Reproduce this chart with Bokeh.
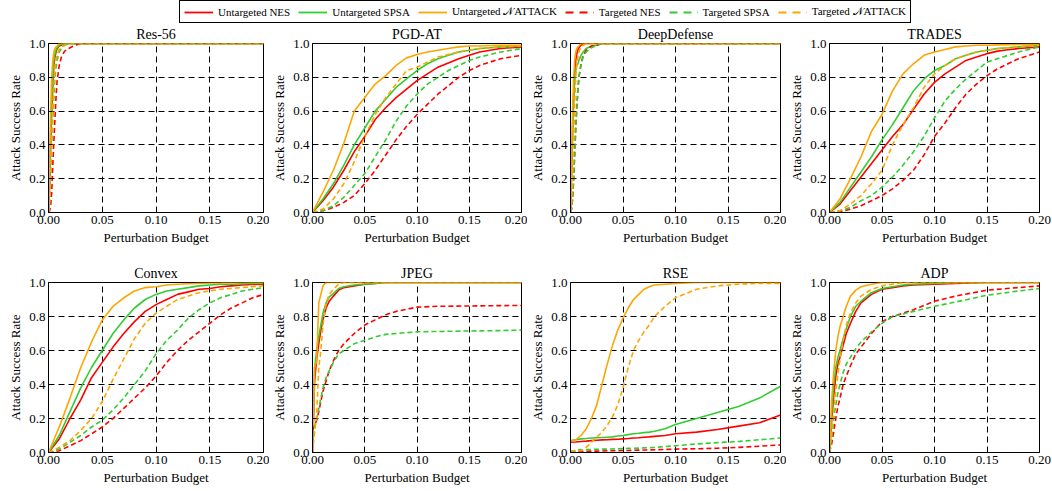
from bokeh.plotting import figure
from bokeh.layouts import column, row
from bokeh.models import FixedTicker, PrintfTickFormatter, Legend, LegendItem, Range1d
from bokeh.embed import file_html
from bokeh.resources import INLINE

FONT = "Liberation Serif"

# ---------------- data ----------------
X_TICKS = [0.0, 0.05, 0.10, 0.15, 0.20]
Y_TICKS = [0.0, 0.2, 0.4, 0.6, 0.8, 1.0]

GRID_COARSE = [0.00, 0.01, 0.02, 0.03, 0.04, 0.05, 0.06, 0.07, 0.08, 0.09, 0.10,
               0.11, 0.12, 0.13, 0.14, 0.15, 0.16, 0.17, 0.18, 0.19, 0.20]
GRID_FINE = [0, .001, .002, .003, .004, .005, .006, .007, .008, .010, .012, .015,
             .020, .025, .030, .050, .100, .200]
GRID_MIXED = [0, .002, .004, .006, .008, .010, .013, .016, .020, .025, .030, .040,
              .050, .060, .070, .080, .100, .120, .150, .180, .200]
GRID_RSE = [0, .005, .01, .015, .02, .025, .03, .035, .04, .045, .05, .055, .06,
            .065, .07, .075, .08, .09, .10, .12, .14, .16, .18, .20]

RES56 = {
    "u_nes":  [0, .15, .40, .60, .75, .87, .92, .95, .97, .985, .99, 1, 1, 1, 1, 1, 1, 1],
    "u_spsa": [0, .20, .45, .65, .80, .90, .94, .96, .975, .99, .995, 1, 1, 1, 1, 1, 1, 1],
    "u_natt": [0, .30, .60, .80, .90, .95, .97, .98, .985, 1, 1, 1, 1, 1, 1, 1, 1, 1],
    "t_nes":  [0, .01, .04, .12, .28, .42, .55, .68, .78, .87, .92, .955, .975, .99, 1, 1, 1, 1],
    "t_spsa": [0, .05, .20, .40, .55, .68, .80, .86, .90, .95, .97, .99, 1, 1, 1, 1, 1, 1],
    "t_natt": [0, .07, .25, .45, .62, .75, .85, .90, .93, .97, .98, .99, 1, 1, 1, 1, 1, 1],
}
PGDAT = {
    "u_nes":  [0, .07, .15, .25, .36, .45, .55, .62, .68, .73, .78, .82, .86, .885, .91, .93, .95, .96, .97, .975, .98],
    "u_spsa": [0, .08, .17, .28, .40, .50, .60, .67, .74, .79, .84, .88, .91, .93, .95, .96, .97, .975, .98, .983, .985],
    "u_natt": [0, .12, .25, .41, .60, .68, .76, .81, .87, .915, .935, .95, .96, .97, .98, .985, .985, .988, .99, .99, .99],
    "t_nes":  [0, .01, .03, .06, .10, .17, .25, .34, .43, .51, .58, .64, .70, .75, .80, .84, .87, .89, .91, .92, .93],
    "t_spsa": [0, .01, .04, .09, .16, .23, .33, .43, .54, .63, .70, .76, .80, .84, .87, .90, .92, .935, .95, .96, .97],
    "t_natt": [0, .02, .08, .17, .30, .45, .58, .68, .76, .84, .86, .89, .92, .935, .95, .96, .97, .975, .98, .982, .985],
}
DEEPDEF = {
    "u_nes":  [0, .25, .50, .70, .82, .90, .94, .96, .975, .99, .995, 1, 1, 1, 1, 1, 1, 1],
    "u_spsa": [0, .20, .45, .65, .78, .84, .87, .88, .90, .93, .95, .97, .985, .99, 1, 1, 1, 1],
    "u_natt": [0, .30, .60, .80, .90, .95, .97, .98, .985, 1, 1, 1, 1, 1, 1, 1, 1, 1],
    "t_nes":  [0, .02, .08, .20, .35, .50, .62, .72, .80, .88, .93, .96, .985, .99, 1, 1, 1, 1],
    "t_spsa": [0, .02, .08, .20, .35, .50, .62, .72, .80, .87, .92, .95, .975, .99, 1, 1, 1, 1],
    "t_natt": [0, .05, .20, .45, .65, .80, .88, .92, .95, .98, .99, 1, 1, 1, 1, 1, 1, 1],
}
TRADES = {
    "u_nes":  [0, .05, .13, .21, .29, .37, .45, .52, .61, .70, .77, .82, .86, .90, .92, .94, .955, .963, .97, .975, .98],
    "u_spsa": [0, .06, .15, .24, .33, .43, .52, .62, .72, .79, .84, .87, .91, .93, .95, .96, .97, .975, .98, .985, .99],
    "u_natt": [0, .08, .20, .33, .48, .58, .72, .82, .88, .93, .95, .965, .98, .985, .99, .99, .992, .993, .994, .995, .995],
    "t_nes":  [0, .005, .02, .04, .07, .10, .14, .19, .25, .34, .45, .53, .62, .70, .76, .81, .85, .88, .91, .93, .95],
    "t_spsa": [0, .01, .03, .07, .10, .15, .21, .28, .36, .45, .56, .66, .73, .79, .84, .89, .91, .93, .95, .965, .98],
    "t_natt": [0, .01, .05, .10, .17, .25, .40, .52, .62, .74, .82, .87, .91, .93, .95, .96, .97, .975, .98, .985, .99],
}
CONVEX = {
    "u_nes":  [0, .08, .20, .31, .44, .53, .62, .70, .77, .83, .87, .90, .93, .945, .96, .965, .975, .98, .985, .988, .99],
    "u_spsa": [0, .10, .24, .38, .50, .60, .70, .78, .85, .90, .93, .95, .96, .97, .98, .985, .99, .99, .993, .995, .995],
    "u_natt": [0, .15, .32, .50, .65, .78, .86, .91, .95, .97, .975, .985, .99, .993, .995, .997, .998, 1, 1, 1, 1],
    "t_nes":  [0, .01, .04, .07, .11, .15, .20, .26, .32, .38, .45, .53, .60, .66, .71, .76, .81, .85, .88, .91, .93],
    "t_spsa": [0, .02, .06, .10, .15, .19, .25, .32, .40, .48, .58, .66, .72, .79, .84, .88, .91, .93, .95, .96, .97],
    "t_natt": [0, .03, .07, .13, .20, .30, .43, .55, .67, .76, .82, .86, .90, .92, .94, .95, .96, .965, .97, .975, .98],
}
JPEG = {
    "u_nes":  [0, .42, .55, .64, .72, .78, .85, .89, .92, .955, .97, .98, .99, .995, 1, 1, 1, 1, 1, 1, 1],
    "u_spsa": [0, .50, .60, .68, .75, .82, .88, .915, .935, .965, .975, .985, .99, .995, 1, 1, 1, 1, 1, 1, 1],
    "u_natt": [0, .50, .54, .88, .93, .98, 1, 1, 1, 1, 1, 1, 1, 1, 1, 1, 1, 1, 1, 1, 1],
    "t_nes":  [.13, .16, .19, .24, .30, .36, .42, .48, .54, .60, .64, .70, .75, .78, .81, .83, .855, .86, .862, .864, .865],
    "t_spsa": [.05, .15, .20, .26, .32, .38, .44, .48, .53, .58, .60, .64, .66, .68, .695, .70, .71, .712, .715, .717, .72],
    "t_natt": [0, .12, .22, .50, .60, .75, .88, .93, .96, .99, 1, 1, 1, 1, 1, 1, 1, 1, 1, 1, 1],
}
RSE = {
    "u_nes":  [.06, .062, .065, .067, .07, .072, .074, .075, .077, .078, .08, .082, .085, .087, .09, .092, .095, .10, .11, .12, .135, .155, .175, .22],
    "u_spsa": [.07, .075, .08, .082, .085, .087, .088, .09, .092, .097, .10, .105, .11, .113, .117, .12, .125, .14, .165, .20, .235, .27, .32, .39],
    "u_natt": [.065, .075, .10, .14, .20, .28, .40, .52, .63, .72, .79, .85, .90, .93, .96, .975, .985, .99, .995, 1, 1, 1, 1, 1],
    "t_nes":  [0, .005, .006, .007, .008, .008, .009, .01, .01, .011, .012, .012, .013, .014, .015, .015, .016, .018, .02, .022, .025, .03, .037, .045],
    "t_spsa": [0, .015, .016, .017, .018, .019, .02, .02, .021, .022, .023, .024, .025, .026, .027, .028, .03, .035, .04, .05, .058, .065, .075, .085],
    "t_natt": [.01, .01, .01, .03, .06, .09, .12, .16, .21, .28, .38, .50, .60, .66, .71, .75, .80, .86, .91, .96, .98, .99, .995, .995],
}
ADP = {
    "u_nes":  [0, .18, .33, .45, .52, .56, .63, .70, .76, .83, .88, .93, .96, .97, .98, .985, .99, .995, 1, 1, 1],
    "u_spsa": [0, .22, .40, .50, .56, .60, .67, .73, .80, .86, .89, .94, .965, .975, .985, .99, .995, 1, 1, 1, 1],
    "u_natt": [0, .30, .47, .60, .68, .74, .80, .86, .92, .955, .975, .99, 1, 1, 1, 1, 1, 1, 1, 1, 1],
    "t_nes":  [0, .05, .12, .20, .27, .32, .40, .45, .51, .58, .62, .70, .77, .80, .82, .84, .89, .92, .955, .97, .98],
    "t_spsa": [0, .08, .20, .28, .35, .40, .47, .52, .56, .61, .65, .71, .76, .80, .815, .83, .86, .885, .925, .95, .965],
    "t_natt": [0, .12, .25, .36, .46, .55, .66, .75, .82, .88, .92, .96, .98, .99, 1, 1, 1, 1, 1, 1, 1],
}

SERIES = ["u_nes", "u_spsa", "u_natt", "t_nes", "t_spsa", "t_natt"]
LABELS = ["Untargeted NES", "Untargeted SPSA", "Untargeted \U0001D4A9ATTACK",
          "Targeted NES", "Targeted SPSA", "Targeted \U0001D4A9ATTACK"]
COLORS = ["#ff0000", "#33cc33", "#ffa500", "#ff0000", "#33cc33", "#ffa500"]
DASHES = ["solid", "solid", "solid", "5 3", "5 3", "5 3"]
LEGEND_DASHES = ["solid", "solid", "solid", "8 6", "8 6", "8 6"]

PANELS_TOP = [("Res-56", GRID_FINE, RES56), ("PGD-AT", GRID_COARSE, PGDAT),
              ("DeepDefense", GRID_FINE, DEEPDEF), ("TRADES", GRID_COARSE, TRADES)]
PANELS_BOTTOM = [("Convex", GRID_COARSE, CONVEX), ("JPEG", GRID_MIXED, JPEG),
                 ("RSE", GRID_RSE, RSE), ("ADP", GRID_MIXED, ADP)]

# ---------------- layout geometry ----------------
COL_W = [(269, 48, 6), (258, 38, 6), (259, 38, 6), (266, 37, 13)]
ROW_H = [(224, 20, 34), (244, 35, 39)]
LEGEND_H = 23


def panel(name, grid, data, w, l, r, h, t, b):
    p = figure(width=w, height=h, x_range=Range1d(0, 0.2), y_range=Range1d(0, 1.0),
               output_backend="svg", toolbar_location=None, title=name,
               min_border_left=l, min_border_right=r, min_border_top=t, min_border_bottom=b,
               background_fill_color="white", border_fill_color="white")
    p.title.align = "center"
    p.title.text_font = FONT
    p.title.text_font_size = "14px"
    p.title.text_font_style = "normal"
    p.title.text_color = "black"
    p.title.standoff = 3
    for key, color, dash in zip(SERIES, COLORS, DASHES):
        p.line(grid, data[key], line_color=color, line_width=1.6, line_dash=dash)
    p.xaxis.ticker = FixedTicker(ticks=X_TICKS)
    p.yaxis.ticker = FixedTicker(ticks=Y_TICKS)
    p.xaxis.formatter = PrintfTickFormatter(format="%.2f")
    p.yaxis.formatter = PrintfTickFormatter(format="%.1f")
    p.xaxis.axis_label = "Perturbation Budget"
    p.yaxis.axis_label = "Attack Success Rate"
    for ax in (p.xaxis, p.yaxis):
        ax.axis_label_text_font = FONT
        ax.axis_label_text_font_size = "13px"
        ax.axis_label_text_font_style = "normal"
        ax.axis_label_text_color = "black"
        ax.major_label_text_font = FONT
        ax.major_label_text_font_size = "13px"
        ax.major_label_text_color = "black"
        ax.axis_line_color = "black"
        ax.major_tick_line_color = "black"
        ax.major_tick_in = 4
        ax.major_tick_out = 0
        ax.minor_tick_line_color = None
        ax.major_label_standoff = 3
        ax.axis_label_standoff = 3
    for g in (p.xgrid, p.ygrid):
        g.grid_line_color = "black"
        g.grid_line_dash = "6 4"
        g.grid_line_width = 1
        g.grid_line_alpha = 1.0
    p.outline_line_color = "black"
    p.outline_line_alpha = 1.0
    p.outline_line_width = 1
    return p


rows = []
for (h, t, b), panels in zip(ROW_H, [PANELS_TOP, PANELS_BOTTOM]):
    figs = []
    for (w, l, r), (name, grid, data) in zip(COL_W, panels):
        figs.append(panel(name, grid, data, w, l, r, h, t, b))
    rows.append(row(*figs, spacing=0))

# legend strip
lf = figure(width=1052, height=LEGEND_H, x_range=Range1d(0, 1), y_range=Range1d(0, 1),
            output_backend="svg", toolbar_location=None, x_axis_type=None, y_axis_type=None,
            min_border=0, outline_line_color=None)
lf.xgrid.visible = False
lf.ygrid.visible = False
items = []
for label, color, dash in zip(LABELS, COLORS, LEGEND_DASHES):
    rr = lf.line([5, 6], [5, 6], line_color=color, line_width=1.8, line_dash=dash)
    items.append(LegendItem(label=label, renderers=[rr]))
leg = Legend(items=items, orientation="horizontal", location=(179, 0),
             label_text_font=FONT, label_text_font_size="11px", label_text_color="black",
             glyph_width=29, glyph_height=12, label_standoff=5, spacing=8, padding=4, margin=0,
             border_line_color="black", border_line_width=1, border_line_alpha=1.0,
             background_fill_color="white", background_fill_alpha=1.0, label_height=12)
lf.add_layout(leg, "center")

layout = column(lf, rows[0], rows[1], spacing=0)
open("out.html", "w").write(file_html(layout, INLINE))
